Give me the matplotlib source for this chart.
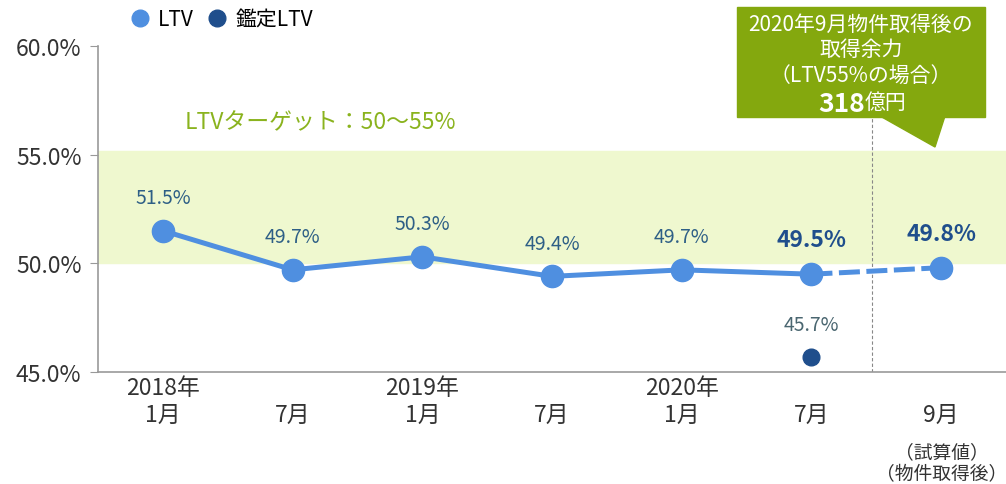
import matplotlib.pyplot as plt
from matplotlib.patches import Polygon, Rectangle
from matplotlib.lines import Line2D

plt.rcParams['font.family'] = ['Noto Sans CJK JP', 'DejaVu Sans']

# data
periods = ["2018年\n1月", "\n7月", "2019年\n1月", "\n7月", "2020年\n1月", "\n7月", "\n9月"]
ltv = [51.5, 49.7, 50.3, 49.4, 49.7, 49.5, 49.8]
appraisal_idx = 5
appraisal_ltv = 45.7
target_low, target_high = 50, 55
yticks = [45, 50, 55, 60]

blue = '#4F8FE0'
dark = '#1F4E8C'
green_txt = '#8AB31E'
green_box = '#84A80E'
band = '#EFF8CF'

fig = plt.figure(figsize=(10.06, 4.85), dpi=100)
ax = fig.add_axes([0.0975, 0.231, 0.9025, 0.672])

x = list(range(len(ltv)))
ax.axhspan(target_low, target_high + 0.15, color=band, zorder=0)
ax.axvline(5.47, color='#888888', lw=0.8, ls=(0, (3, 2)), zorder=1)

ax.plot(x[:6], ltv[:6], color=blue, lw=3.6, zorder=3)
ax.plot(x[5:], ltv[5:], color=blue, lw=3.6, ls=(0, (4.2, 1.3)), zorder=3)
ax.plot(x, ltv, 'o', color=blue, ms=16, zorder=4)
ax.plot(appraisal_idx, appraisal_ltv, 'o', color=dark, ms=12, zorder=4)

for i, v in enumerate(ltv):
    if i >= 5:
        ax.text(i, v + 1.05, f"{v:.1f}%", ha='center', va='bottom', fontsize=16.5,
                color=dark, fontweight='bold')
    else:
        ax.text(i, v + 1.05, f"{v:.1f}%", ha='center', va='bottom', fontsize=14,
                color='#2E5F86')
ax.text(appraisal_idx, appraisal_ltv + 1.0, f"{appraisal_ltv:.1f}%", ha='center',
        va='bottom', fontsize=14, color='#4A6670')

ax.text(0.17, 56.0, "LTVターゲット：50〜55%", fontsize=16.5, color=green_txt,
        ha='left', va='bottom')

ax.set_xlim(-0.5, 6.5)
ax.set_ylim(45, 60)
ax.set_yticks(yticks)
ax.set_yticklabels([f"{t:.1f}%" for t in yticks], fontsize=16.5, color='#333333')
ax.set_xticks(x)
ax.set_xticklabels(periods, fontsize=16.5, color='#333333', linespacing=1.2)
ax.tick_params(axis='x', length=0, pad=3)
ax.tick_params(axis='y', length=6, color='#999999', pad=6)
for s in ['top', 'right']:
    ax.spines[s].set_visible(False)
for s in ['left', 'bottom']:
    ax.spines[s].set_color('#999999')
    ax.spines[s].set_linewidth(1.2)

fig.text(942 / 1006, 1 - 464 / 485, "（試算値）\n（物件取得後）", ha='center', va='center',
         fontsize=13.5, color='#333333', linespacing=1.05)

# legend
handles = [Line2D([], [], marker='o', ls='', color=blue, ms=12),
           Line2D([], [], marker='o', ls='', color=dark, ms=12)]
fig.legend(handles, ["LTV", "鑑定LTV"], loc='center left', ncol=2,
           bbox_to_anchor=(100 / 1006, 1 - 20 / 485), frameon=False, fontsize=15,
           handletextpad=-0.1, columnspacing=0.1)

# callout
box = Rectangle((737 / 1006, 1 - 118 / 485), 248 / 1006, 110 / 485,
                transform=fig.transFigure, color=green_box, zorder=5)
tail = Polygon([(880 / 1006, 1 - 117 / 485), (945 / 1006, 1 - 117 / 485),
                (935 / 1006, 1 - 148 / 485)], closed=True,
               transform=fig.transFigure, color=green_box, zorder=5)
fig.patches.extend([box, tail])
cx = 861 / 1006
fig.text(cx, 1 - 25 / 485, "2020年9月物件取得後の", ha='center', va='center',
         fontsize=15, color='white', zorder=6)
fig.text(cx, 1 - 50 / 485, "取得余力", ha='center', va='center',
         fontsize=15, color='white', zorder=6)
fig.text(cx, 1 - 76 / 485, "（LTV55%の場合）", ha='center', va='center',
         fontsize=15, color='white', zorder=6)
fig.text(cx + 0.004, 1 - 104 / 485, "318", ha='right', va='center',
         fontsize=19, color='white', fontweight='bold', zorder=6)
fig.text(cx + 0.004, 1 - 103 / 485, "億円", ha='left', va='center',
         fontsize=15, color='white', zorder=6)

fig.savefig('out.png', dpi=100)
